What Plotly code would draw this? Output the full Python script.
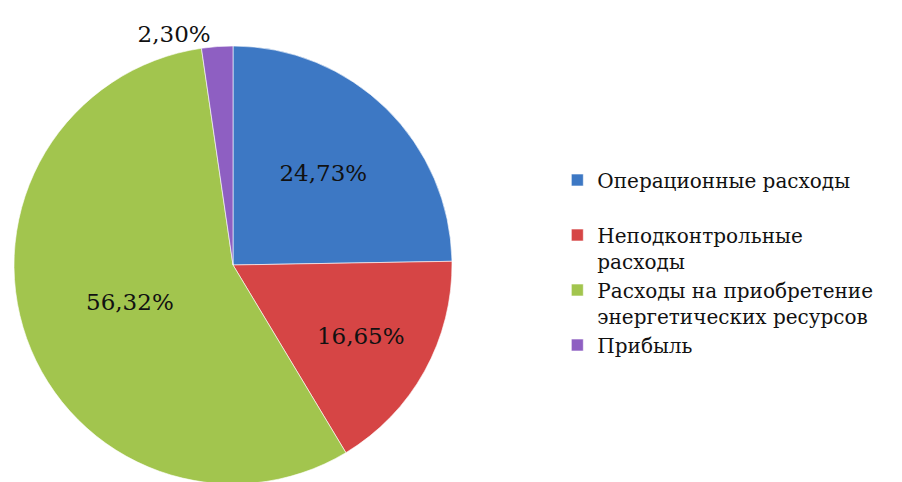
import plotly.graph_objects as go

categories = [
    "Операционные расходы",
    "Неподконтрольные<br>расходы",
    "Расходы на приобретение<br>энергетических ресурсов",
    "Прибыль",
]
values = [24.73, 16.65, 56.32, 2.30]
value_labels = ["24,73%", "16,65%", "56,32%", "2,30%"]
colors = ["#3d78c4", "#d64545", "#a2c54e", "#8e5fc2"]

legend_names = [c if "<br>" in c else c + "<br>\u00a0" for c in categories]

FONT = "DejaVu Serif"
W, H = 902, 482
fig = go.Figure(
    go.Pie(
        labels=legend_names,
        values=values,
        text=value_labels,
        textinfo="text",
        textposition=["inside", "inside", "inside", "outside"],
        insidetextorientation="horizontal",
        sort=False,
        direction="clockwise",
        rotation=0,
        marker=dict(colors=colors, line=dict(color="rgba(255,255,255,0.6)", width=1)),
        textfont=dict(family=FONT, size=23, color="#111111"),
        insidetextfont=dict(family=FONT, size=23, color="#111111"),
        outsidetextfont=dict(family=FONT, size=23, color="#111111"),
        domain=dict(x=[5 / W, 445 / W], y=[6 / H, 444 / H]),
        showlegend=True,
    )
)

fig.update_layout(
    width=W,
    height=H,
    margin=dict(l=0, r=0, t=0, b=0, autoexpand=False),
    paper_bgcolor="white",
    plot_bgcolor="white",
    font=dict(family=FONT, size=20, color="#111111"),
    legend=dict(
        x=0.609,
        y=0.445,
        xanchor="left",
        yanchor="middle",
        valign="top",
        font=dict(family=FONT, size=20, color="#111111"),
        itemwidth=30,
        bgcolor="rgba(0,0,0,0)",
    ),
)

fig.write_html("out.html")
